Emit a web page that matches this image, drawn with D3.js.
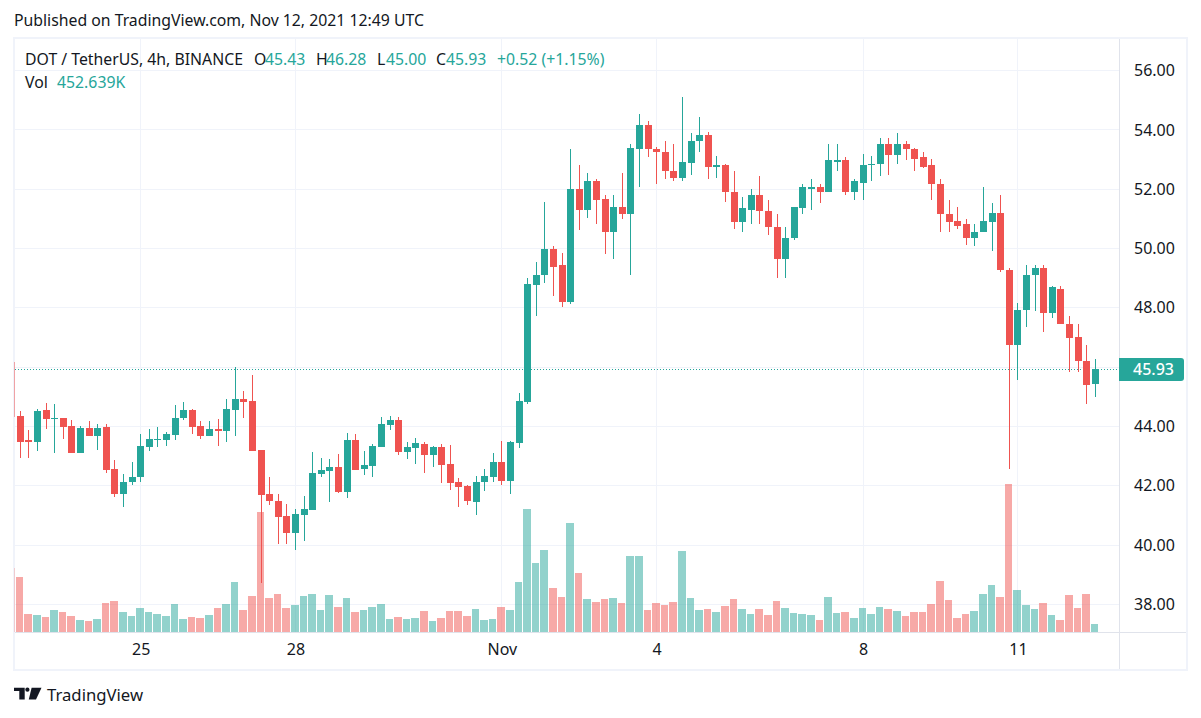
<!DOCTYPE html>
<html>
<head>
<meta charset="utf-8">
<script src="https://cdnjs.cloudflare.com/ajax/libs/d3/7.8.5/d3.min.js"></script>
<style>
  html, body { margin: 0; background: #fff; }
  svg { display: block; }
  text { font-family: "Noto Sans", sans-serif; }
</style>
</head>
<body>
<svg id="chart" width="1201" height="718"></svg>
<script>
// candles start one bar before the visible pane, that one is clipped at the left edge
const opens = [46.17,
  44.34,43.53,43.46,44.54,44.24,44.27,44.03,43.09,43.93,43.66,
  43.97,42.55,41.71,42.11,42.28,43.29,43.53,43.53,43.70,44.27,
  44.54,44.00,43.66,43.90,43.83,44.54,44.94,44.84,43.19,41.71,
  41.47,40.97,40.39,41.01,41.18,42.39,42.49,42.63,41.79,43.54,
  42.56,42.66,43.30,44.04,44.21,43.13,43.27,43.40,43.03,43.30,
  42.73,42.12,41.99,41.45,42.12,42.29,42.80,42.16,43.44,44.82,
  48.78,49.09,50.00,49.43,48.18,52.02,51.31,52.29,51.68,50.57,
  51.41,51.18,53.37,54.15,53.37,53.27,52.63,52.39,52.90,53.61,
  53.84,52.76,52.83,51.92,50.88,51.31,51.79,51.28,50.74,49.66,
  50.34,51.38,52.02,52.09,51.89,52.93,53.00,51.89,52.22,52.80,
  52.86,53.51,53.17,53.54,53.37,53.07,52.80,52.19,51.18,50.94,
  50.81,50.34,50.54,50.91,51.21,49.29,46.73,47.91,49.09,49.33,
  47.84,48.65,47.47,47.00,46.22,45.43];
const highs = [46.30,
  44.51,43.87,44.57,44.78,44.74,44.30,44.20,44.03,44.17,44.07,
  44.07,42.85,42.38,42.79,43.76,43.90,43.97,43.80,44.71,44.81,
  44.57,44.17,44.17,44.24,44.91,45.99,45.21,45.75,43.19,42.31,
  41.71,41.37,41.20,41.65,43.13,42.93,42.90,43.07,43.78,43.74,
  43.17,43.40,44.31,44.35,44.31,43.47,43.61,43.47,43.34,43.40,
  43.37,42.26,42.02,42.33,42.56,43.10,43.51,43.51,45.12,49.00,
  49.56,51.58,50.07,49.86,53.37,52.80,52.56,52.36,51.79,51.79,
  52.53,53.51,54.55,54.31,53.44,53.64,53.54,55.12,53.91,54.42,
  53.94,53.13,52.86,52.63,51.75,52.02,52.43,51.62,51.15,50.71,
  51.41,52.19,52.36,52.16,53.54,53.51,53.10,52.33,53.20,53.13,
  53.74,53.71,53.88,53.61,53.40,53.27,53.03,52.36,51.65,51.41,
  50.99,50.84,52.09,51.52,51.82,49.33,48.15,49.43,49.46,49.46,
  48.72,48.72,47.74,47.47,46.76,46.28];
const lows = [44.20,
  42.95,42.95,43.16,43.90,43.09,43.56,43.09,43.09,43.66,43.22,
  42.42,41.61,41.27,42.04,42.11,43.16,43.29,43.33,43.53,44.20,
  43.73,43.56,43.66,43.33,43.49,43.66,44.27,43.16,38.72,41.34,
  40.02,40.05,39.82,40.13,41.18,42.29,41.45,41.75,41.58,42.53,
  42.36,42.29,43.30,43.88,43.03,42.90,42.73,42.43,42.63,42.09,
  41.85,41.28,41.35,41.01,41.82,42.12,42.02,41.72,43.27,44.75,
  47.72,48.82,48.41,48.04,48.14,50.64,51.04,50.84,49.80,49.66,
  50.98,49.09,52.09,53.10,52.19,52.36,52.26,52.29,52.49,53.24,
  52.33,52.39,51.58,50.67,50.57,50.81,50.84,50.44,49.02,49.02,
  50.30,51.18,51.31,51.55,51.89,52.60,51.79,51.65,51.65,52.26,
  52.43,52.49,52.86,53.00,52.63,52.70,51.65,50.54,50.54,50.67,
  50.13,50.10,50.54,49.90,49.22,42.55,45.58,47.34,47.88,47.20,
  47.67,47.44,45.85,45.82,44.74,45.00];
const closes = [44.33,
  43.49,43.46,44.51,44.24,44.27,43.97,43.09,43.93,43.66,43.93,
  42.52,41.71,42.11,42.31,43.33,43.56,43.56,43.73,44.30,44.54,
  43.97,43.66,43.90,43.83,44.57,44.94,44.81,43.16,41.67,41.47,
  40.93,40.39,41.03,41.21,42.43,42.53,42.63,41.79,43.54,42.53,
  42.70,43.34,44.08,44.21,43.13,43.30,43.44,43.03,43.30,42.70,
  42.09,41.95,41.48,42.12,42.33,42.80,42.16,43.47,44.85,48.80,
  49.12,50.00,49.39,48.18,52.02,51.31,52.29,51.65,50.57,51.41,
  51.18,53.40,54.15,53.34,53.24,52.60,52.39,52.93,53.64,53.84,
  52.76,52.83,51.89,50.91,51.35,51.79,51.25,50.71,49.66,50.37,
  51.41,52.06,52.09,51.92,52.97,53.00,51.89,52.26,52.83,52.86,
  53.51,53.17,53.54,53.34,53.03,52.76,52.16,51.15,50.91,50.77,
  50.34,50.57,50.94,51.21,49.26,46.73,47.94,49.12,49.33,47.84,
  48.69,47.44,46.97,46.19,45.41,45.93];
// volume in thousands
const volumes = [3667,
  3154,1045,988,874,1273,1159,931,703,646,760,
  1672,1786,1159,931,1387,1159,1045,931,1615,760,
  874,817,988,1387,1615,2869,1273,2071,6859,1957,
  2185,1387,1558,2071,2185,1273,2128,1444,1957,1159,
  1273,1444,1615,760,874,760,817,1216,646,817,
  1216,1216,931,1330,703,760,1444,1273,2869,7030,
  3952,4693,2527,2014,6232,3382,1900,1729,1900,1957,
  1672,4351,4351,1273,1672,1558,1729,4636,1957,1273,
  1330,1159,1501,1900,1330,1045,1330,988,1786,1387,
  1102,1026,969,684,1995,1083,1140,798,1368,1026,
  1425,1311,1197,912,1140,1140,1596,2907,1824,798,
  1026,1197,2166,2679,1995,8436,2394,1539,1311,1653,
  969,684,2109,1368,2166,453];

const priceTicks = [38, 40, 42, 44, 46, 48, 50, 52, 54, 56];
const dateTickBars = [14, 32, 56, 74, 98, 116];   // bar index of each date label
const dateTickLabels = ['25', '28', 'Nov', '4', '8', '11'];
const lastPrice = 45.93;
const firstBar = -1;

const UP = '#26a69a', DOWN = '#ef5350', GRID = '#f0f3fa', SEP = '#e0e3eb', INK = '#131722';

const svg = d3.select('#chart');

const xBar = d3.scaleLinear().domain([0, 125]).range([20.3, 1095.3]);
const yPrice = d3.scaleLinear().domain([38, 56]).range([604.3, 70.6]);
const yVol = d3.scaleLinear().domain([0, 8500]).range([632.3, 483.2]);
const px = i => Math.floor(xBar(i));

const bars = opens.map((o, k) => ({
  i: k + firstBar, o, h: highs[k], l: lows[k], c: closes[k], v: volumes[k], up: closes[k] >= o
}));

svg.append('defs').append('clipPath').attr('id', 'pane')
  .append('rect').attr('x', 14.5).attr('y', 39).attr('width', 1104.5).attr('height', 594);

// outer frame and pane separators
svg.append('rect').attr('x', 14).attr('y', 38).attr('width', 1173).attr('height', 632)
  .attr('fill', 'none').attr('stroke', GRID).attr('stroke-width', 2);

// grid
const grid = svg.append('g').attr('shape-rendering', 'crispEdges').attr('stroke', GRID);
grid.selectAll('.h').data(priceTicks).join('line')
  .attr('x1', 15).attr('x2', 1119)
  .attr('y1', d => yPrice(d)).attr('y2', d => yPrice(d));
grid.selectAll('.v').data(dateTickBars).join('line')
  .attr('x1', d => px(d) + 0.5).attr('x2', d => px(d) + 0.5)
  .attr('y1', 39).attr('y2', 632);

const seps = svg.append('g').attr('shape-rendering', 'crispEdges').attr('stroke', SEP);
seps.append('line').attr('x1', 1119.5).attr('x2', 1119.5).attr('y1', 39).attr('y2', 669);
seps.append('line').attr('x1', 15).attr('x2', 1186).attr('y1', 632.5).attr('y2', 632.5);

const pane = svg.append('g').attr('clip-path', 'url(#pane)');

// last price line
pane.append('line')
  .attr('x1', 15).attr('x2', 1119)
  .attr('y1', Math.round(yPrice(lastPrice)) + 0.5).attr('y2', Math.round(yPrice(lastPrice)) + 0.5)
  .attr('stroke', UP).attr('stroke-dasharray', '1 2');

// candles
const candle = pane.append('g').attr('shape-rendering', 'crispEdges')
  .selectAll('g').data(bars).join('g')
  .attr('fill', d => d.up ? UP : DOWN);
candle.append('rect')
  .attr('x', d => px(d.i)).attr('width', 1)
  .attr('y', d => Math.round(yPrice(d.h)))
  .attr('height', d => Math.round(yPrice(d.l)) - Math.round(yPrice(d.h)));
candle.append('rect')
  .attr('x', d => px(d.i) - 3).attr('width', 7)
  .attr('y', d => Math.round(yPrice(Math.max(d.o, d.c))))
  .attr('height', d => Math.max(1, Math.round(yPrice(Math.min(d.o, d.c))) - Math.round(yPrice(Math.max(d.o, d.c)))));

// volume
pane.append('g').attr('shape-rendering', 'crispEdges')
  .selectAll('rect').data(bars).join('rect')
  .attr('x', d => px(d.i) - 4)
  .attr('width', d => px(d.i + 1) - px(d.i) - 1)
  .attr('y', d => yVol(d.v))
  .attr('height', d => yVol(0) - yVol(d.v))
  .attr('fill', d => d.up ? UP : DOWN)
  .attr('fill-opacity', 0.5);

// axes
const yAxis = d3.axisRight(yPrice).tickValues(priceTicks).tickSize(0).tickPadding(0)
  .tickFormat(d3.format('.2f'));
svg.append('g').attr('transform', 'translate(1134,0)').call(yAxis)
  .call(g => g.select('.domain').remove())
  .call(g => g.selectAll('text')
    .attr('fill', INK).attr('font-size', 16).attr('font-family', '"Noto Sans", sans-serif'));

const xAxis = d3.axisBottom(xBar).tickValues(dateTickBars).tickSize(0).tickPadding(0)
  .tickFormat(d => dateTickLabels[dateTickBars.indexOf(d)]);
svg.append('g').attr('transform', 'translate(0,644)').call(xAxis)
  .call(g => g.select('.domain').remove())
  .call(g => g.selectAll('text')
    .attr('fill', INK).attr('font-size', 16).attr('font-family', '"Noto Sans", sans-serif'));

// last price tag
const tagY = Math.round(yPrice(lastPrice));
svg.append('path')
  .attr('d', `M1119 ${tagY - 11}H1181a3 3 0 0 1 3 3V${tagY + 9}a3 3 0 0 1 -3 3H1119Z`)
  .attr('fill', UP);
svg.append('text').attr('x', 1133).attr('y', tagY + 5.5)
  .attr('fill', '#fff').attr('font-size', 16).attr('font-weight', 500).text(d3.format('.2f')(lastPrice));

// header and legend
const label = (x, y, txt, fill) => svg.append('text')
  .attr('x', x).attr('y', y).attr('font-size', 15.8).attr('fill', fill || INK).text(txt);

label(14, 26, 'Published on TradingView.com, Nov 12, 2021 12:49 UTC');
label(25, 65, 'DOT / TetherUS, 4h, BINANCE');
label(254, 65, 'O'); label(265, 65, '45.43', UP);
label(316, 65, 'H'); label(326, 65, '46.28', UP);
label(377, 65, 'L');  label(386, 65, '45.00', UP);
label(436, 65, 'C');  label(446, 65, '45.93', UP);
label(497, 65, '+0.52 (+1.15%)', UP);
label(25, 88, 'Vol');
label(57, 88, '452.639K', UP);

// logo
const logo = svg.append('g').attr('fill', INK);
logo.append('path').attr('d', 'M14 687.7H24.7V699.4H19.3V691H14Z');
logo.append('circle').attr('cx', 27.4).attr('cy', 689.7).attr('r', 2.1);
logo.append('path').attr('d', 'M31.6 687.7H41.5L36 699.4H28.8Z');
svg.append('text').attr('x', 47).attr('y', 700.5)
  .attr('font-size', 16.7).attr('fill', INK).text('TradingView');
</script>
</body>
</html>
